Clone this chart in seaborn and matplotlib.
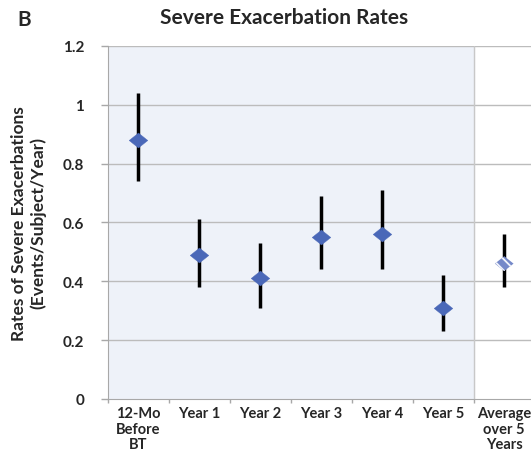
import matplotlib
matplotlib.use("Agg")
import matplotlib.pyplot as plt
import seaborn as sns
import pandas as pd
import numpy as np

categories = ["12-Mo\nBefore\nBT", "Year 1", "Year 2", "Year 3", "Year 4", "Year 5", "Average\nover 5\nYears"]
rates = [0.88, 0.49, 0.41, 0.55, 0.56, 0.31, 0.46]
lower = [0.74, 0.38, 0.31, 0.44, 0.44, 0.23, 0.38]
upper = [1.04, 0.61, 0.53, 0.69, 0.71, 0.42, 0.56]
y_ticks = [0, 0.2, 0.4, 0.6, 0.8, 1, 1.2]
y_tick_labels = ["0", "0.2", "0.4", "0.6", "0.8", "1", "1.2"]

sns.set_style("white")
plt.rcParams["font.family"] = ["Lato", "DejaVu Sans"]
plt.rcParams["hatch.linewidth"] = 1.3
plt.rcParams["hatch.color"] = "#f2f4fb"

n = len(categories)
df = pd.DataFrame({"x": np.arange(n) + 0.5, "rate": rates, "lo": lower, "hi": upper, "cat": categories})

diamond = [(-1, 0), (0, 0.8), (1, 0), (0, -0.8), (-1, 0)]

fig = plt.figure(figsize=(5.31, 4.56), dpi=100)
ax = fig.add_axes([0.203, 0.123, 0.804, 0.774])
ax.set_xlim(0, n)
ax.set_ylim(0, 1.2)

ax.axvspan(0, n - 1, color="#eef2f9", zorder=0)
for yt in y_ticks[1:]:
    ax.axhline(yt, color="#bcbcbc", lw=1.0, zorder=1)
ax.axvline(n - 1, color="#c8c8c8", lw=1.0, zorder=1)

ax.vlines(df["x"], df["lo"], df["hi"], color="black", lw=2.5, zorder=3)

main = df.iloc[:-1]
avg = df.iloc[-1:]
sns.scatterplot(data=main, x="x", y="rate", marker=diamond, s=180, color="#4a68b8",
                edgecolor="#4a68b8", linewidth=0.3, ax=ax, zorder=4, legend=False)
avg_sc = ax.scatter(avg["x"], avg["rate"], marker=diamond, s=180, facecolor="#7589c9",
                    linewidth=0, hatch="\\\\\\", zorder=4)
avg_sc.set_edgecolor("none")

ax.set_yticks(y_ticks)
ax.set_yticklabels(y_tick_labels, fontsize=11, fontweight="bold")
ax.set_xticks(range(n + 1))
ax.set_xticklabels([])
ax.set_xticks([i + 0.5 for i in range(n)], minor=True)
ax.set_xticklabels(categories, minor=True, fontsize=10.5, fontweight="bold", linespacing=1.15)
ax.tick_params(axis="x", which="major", length=3, color="#a8a8a8", direction="out", bottom=True, width=1)
ax.tick_params(axis="x", which="minor", length=0, pad=5)
ax.tick_params(axis="y", length=5, color="#a8a8a8", direction="out", left=True, width=1, pad=12)

for side in ["top", "right"]:
    ax.spines[side].set_visible(False)
ax.spines["left"].set_color("#a8a8a8")
ax.spines["bottom"].set_color("#a8a8a8")
ax.set_xlabel("")
ax.set_ylabel("Rates of Severe Exacerbations\n(Events/Subject/Year)", fontsize=12.5,
              fontweight="bold", labelpad=12, linespacing=1.15)

fig.text(0.535, 0.96, "Severe Exacerbation Rates", ha="center", va="center",
         fontsize=15, fontweight="bold")
fig.text(0.045, 0.957, "B", ha="center", va="center", fontsize=15, fontweight="bold")

fig.savefig("out.png", dpi=100, facecolor="white")
